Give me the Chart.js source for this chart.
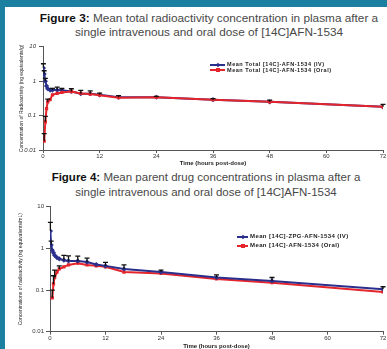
<!DOCTYPE html>
<html>
<head>
<meta charset="utf-8">
<script src="https://cdn.jsdelivr.net/npm/chart.js@4/dist/chart.umd.min.js"></script>
<style>
  html, body { margin: 0; padding: 0; background: #fff; }
  #page { position: relative; width: 387px; height: 349px; overflow: hidden; background: #fff;
          font-family: "Liberation Sans", Arial, sans-serif; }
  .band-top { position: absolute; left: 0; top: 0; width: 387px; height: 7px; background: #1b7f9f; }
  .band-left { position: absolute; left: 0; top: 0; width: 5px; height: 349px; background: #1b7f9f; }
  .title { position: absolute; transform: translateX(-50%); white-space: nowrap; text-align: center;
           color: #484848; }
  .title b { color: #111; }
  .box { position: absolute; left: 0; width: 387px; }
  .legend { position: absolute; font-weight: bold; color: #222; white-space: nowrap; }
  .legend .row { position: relative; display: flex; align-items: center; }
  .legend .swatch { position: relative; display: inline-block; height: 2px; }
  .legend .mark { position: absolute; left: 50%; top: 50%; width: 4px; height: 4px; transform: translate(-50%, -50%); }
</style>
</head>
<body>
<div id="page">
  <div class="band-top"></div>
  <div class="band-left"></div>

  <div class="title" style="left:209px; top:11px; line-height:14px; font-size:11.8px;">
    <b>Figure 3:</b> Mean total radioactivity concentration in plasma after a<br>single intravenous and oral dose of [14C]AFN-1534
  </div>
  <div class="box" style="top:40px; height:130px;"><canvas id="fig3"></canvas></div>
  <div class="legend" id="leg3" style="left:210px; top:62px; font-size:5.5px; letter-spacing:0.55px; line-height:5.5px;"></div>

  <div class="title" style="left:206px; top:170px; line-height:14.5px; font-size:11.5px;">
    <b>Figure 4:</b> Mean parent drug concentrations in plasma after a<br>single intravenous and oral dose of [14C]AFN-1534
  </div>
  <div class="box" style="top:200px; height:149px;"><canvas id="fig4"></canvas></div>
  <div class="legend" id="leg4" style="left:237px; top:232px; font-size:6px; letter-spacing:0.4px; line-height:9px;"></div>
</div>

<script>
// Sampling times (hours post-dose) and mean concentrations, Figure 3 (total radioactivity)
const fig3IvTimes   = [0.083, 0.25, 0.5, 0.75, 1, 1.5, 2, 3, 4, 6, 8, 10, 12, 16, 24, 36, 48, 72];
const fig3IvConc    = [2.4, 1.6, 1.0, 0.72, 0.6, 0.55, 0.55, 0.55, 0.54, 0.5, 0.43, 0.43, 0.4, 0.34, 0.34, 0.29, 0.25, 0.18];
const fig3IvUpper   = [3.2, 2.0, 1.2, null, null, null, 0.62, 0.67, 0.62, 0.6, 0.54, 0.52, 0.45, 0.38, 0.36, 0.31, 0.28, 0.21];
const fig3OralTimes = [0.25, 0.5, 0.75, 1, 1.5, 2, 3, 4, 6, 8, 10, 12, 16, 24, 36, 48, 72];
const fig3OralConc  = [0.018, 0.066, 0.16, 0.25, 0.29, 0.4, 0.44, 0.47, 0.5, 0.44, 0.42, 0.39, 0.33, 0.34, 0.29, 0.25, 0.18];
const fig3OralUpper = [0.03, 0.095, null, 0.3, null, null, null, null, null, null, null, null, null, null, null, null, null];

// Figure 4 (parent drug)
const fig4IvTimes   = [0.083, 0.25, 0.5, 0.75, 1, 1.5, 2, 3, 4, 6, 8, 10, 12, 16, 24, 36, 48, 72];
const fig4IvConc    = [2.6, 1.2, 0.9, 0.78, 0.68, 0.6, 0.56, 0.52, 0.5, 0.5, 0.47, 0.41, 0.38, 0.32, 0.27, 0.2, 0.165, 0.105];
const fig4IvUpper   = [4.2, 1.5, null, null, null, null, null, 0.68, 0.66, 0.65, 0.58, null, 0.46, 0.4, 0.3, 0.23, 0.2, 0.12];
const fig4OralTimes = [0.5, 0.75, 1, 1.5, 2, 3, 4, 6, 8, 10, 12, 16, 24, 36, 48, 72];
const fig4OralConc  = [0.065, 0.14, 0.2, 0.27, 0.32, 0.36, 0.4, 0.44, 0.4, 0.38, 0.36, 0.27, 0.25, 0.185, 0.15, 0.09];
const fig4OralUpper = [0.1, 0.22, 0.3, null, 0.38, null, null, null, null, null, null, null, null, null, null, null];

// Axis ticks
const timeTicks  = [0, 12, 24, 36, 48, 60, 72];
const concTicks  = [0.01, 0.1, 1, 10];
const concLabels = ['0.01', '0.1', '1', '10'];

const fig3Labels = ['Mean Total [14C]-AFN-1534 (IV)', 'Mean Total [14C]-AFN-1534 (Oral)'];
const fig4Labels = ['Mean [14C]-ZPG-AFN-1534 (IV)', 'Mean [14C]-AFN-1534 (Oral)'];
const fig3YTitle = 'Concentration of Radioactivity (ng equivalents/g)';
const fig4YTitle = 'Concentrations of radioactivity (ng equivalents/mL)';
const xTitle = 'Time (hours post-dose)';

const BLUE = '#2b2f8c';
const RED = '#e4252b';

function pairs(times, values) {
  return times.map((t, i) => ({ x: t, y: values[i] }));
}

// Upward-only error bars with caps, placed through the chart's own scales
const errorBars = {
  id: 'errorBars',
  afterDatasetsDraw(chart) {
    const ctx = chart.ctx;
    const ys = chart.scales.y;
    ctx.save();
    ctx.strokeStyle = '#111';
    ctx.lineWidth = 1.3;
    chart.data.datasets.forEach((ds, di) => {
      if (!ds.upper) return;
      const meta = chart.getDatasetMeta(di);
      meta.data.forEach((pt, i) => {
        const top = ds.upper[i];
        if (top == null) return;
        const yTop = ys.getPixelForValue(top);
        ctx.beginPath();
        ctx.moveTo(pt.x, pt.y);
        ctx.lineTo(pt.x, yTop);
        ctx.moveTo(pt.x - 2.5, yTop);
        ctx.lineTo(pt.x + 2.5, yTop);
        ctx.stroke();
      });
    });
    ctx.restore();
  }
};

function makeChart(id, cfg) {
  const tickFont = { family: '"Liberation Sans", Arial, sans-serif', size: 6 };
  return new Chart(document.getElementById(id), {
    type: 'line',
    data: {
      datasets: [
        { label: cfg.labels[0], data: pairs(cfg.ivT, cfg.ivC), upper: cfg.ivU, order: cfg.ivOrder,
          borderColor: BLUE, backgroundColor: BLUE, borderWidth: 2,
          pointStyle: 'rectRot', pointRadius: 2.6, pointBorderWidth: 0, tension: 0 },
        { label: cfg.labels[1], data: pairs(cfg.orT, cfg.orC), upper: cfg.orU, order: cfg.orOrder,
          borderColor: RED, backgroundColor: RED, borderWidth: 2,
          pointStyle: 'rect', pointRadius: 2.3, pointBorderWidth: 0, tension: 0 }
      ]
    },
    options: {
      responsive: true,
      maintainAspectRatio: false,
      animation: false,
      events: [],
      layout: { padding: { left: 0, right: cfg.padRight, top: cfg.padTop, bottom: 0 } },
      plugins: { legend: { display: false }, tooltip: { enabled: false } },
      scales: {
        x: {
          type: 'linear', min: 0, max: 72,
          afterBuildTicks: s => { s.ticks = timeTicks.map(v => ({ value: v })); },
          afterFit: s => { s.height = cfg.xHeight; s.paddingLeft = 0; s.paddingRight = 0; },
          ticks: { font: tickFont, color: '#333', padding: 0, maxRotation: 0, autoSkip: false },
          grid: { drawOnChartArea: false, drawTicks: true, tickLength: 3, color: '#555' },
          border: { color: '#555', width: 1 },
          title: { display: true, text: xTitle, color: '#222',
                   font: { family: '"Liberation Sans", Arial, sans-serif', size: 6, weight: 'bold', lineHeight: 1 },
                   padding: { top: 0, bottom: cfg.xTitlePad } }
        },
        y: {
          type: 'logarithmic', min: 0.01, max: 10,
          afterBuildTicks: s => { s.ticks = concTicks.map(v => ({ value: v })); },
          afterFit: s => { s.width = cfg.yWidth; s.paddingTop = 0; s.paddingBottom = 0; },
          ticks: { font: Object.assign({ style: cfg.italic ? 'italic' : 'normal' }, tickFont), color: '#333',
                   padding: cfg.yTickPad, autoSkip: false,
                   callback: v => concLabels[concTicks.indexOf(v)] },
          grid: { drawOnChartArea: false, drawTicks: true, tickLength: 4, color: '#555' },
          border: { color: '#555', width: 1 },
          title: { display: true, text: cfg.yTitle, color: '#222',
                   font: { family: '"Liberation Sans", Arial, sans-serif', size: 5, lineHeight: 1 },
                   padding: { top: cfg.yTitlePad, bottom: 0 } }
        }
      }
    },
    plugins: [errorBars]
  });
}

function buildLegend(el, chart, swatchWidth) {
  chart.data.datasets.forEach(ds => {
    const row = document.createElement('div');
    row.className = 'row';
    const sw = document.createElement('span');
    sw.className = 'swatch';
    sw.style.width = swatchWidth + 'px';
    sw.style.background = ds.borderColor;
    sw.style.marginRight = '2px';
    const mk = document.createElement('span');
    mk.className = 'mark';
    mk.style.background = ds.borderColor;
    if (ds.pointStyle === 'rectRot') mk.style.transform = 'translate(-50%, -50%) rotate(45deg) scale(0.8)';
    sw.appendChild(mk);
    const tx = document.createElement('span');
    tx.textContent = ds.label;
    row.appendChild(sw);
    row.appendChild(tx);
    el.appendChild(row);
  });
}

// In the total-radioactivity plot the oral trace sits over the IV trace
const chart3 = makeChart('fig3', {
  ivT: fig3IvTimes, ivC: fig3IvConc, ivU: fig3IvUpper,
  orT: fig3OralTimes, orC: fig3OralConc, orU: fig3OralUpper,
  ivOrder: 1, orOrder: 0,
  labels: fig3Labels, yTitle: fig3YTitle, italic: true,
  padRight: 2, padTop: 6.7, xHeight: 20, xTitlePad: 4, yWidth: 43, yTickPad: 3, yTitlePad: 19
});
const chart4 = makeChart('fig4', {
  ivT: fig4IvTimes, ivC: fig4IvConc, ivU: fig4IvUpper,
  orT: fig4OralTimes, orC: fig4OralConc, orU: fig4OralUpper,
  ivOrder: 0, orOrder: 1,
  labels: fig4Labels, yTitle: fig4YTitle, italic: false,
  padRight: 4, padTop: 6.7, xHeight: 17.3, xTitlePad: 0, yWidth: 50, yTickPad: 2, yTitlePad: 18
});

buildLegend(document.getElementById('leg3'), chart3, 15);
buildLegend(document.getElementById('leg4'), chart4, 11);
</script>
</body>
</html>
